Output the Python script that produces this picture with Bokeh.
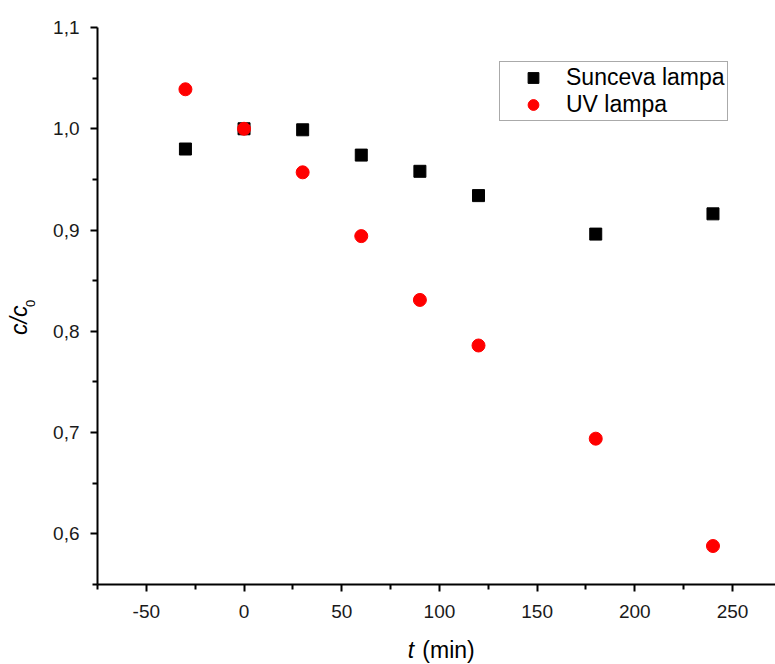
import math
from bokeh.plotting import figure
from bokeh.layouts import row, column
from bokeh.models import FixedTicker, CustomJSTickFormatter, Range1d
from bokeh.core.properties import value
from bokeh.embed import file_html
from bokeh.resources import INLINE

# ---- data ----
t_min = [-30, 0, 30, 60, 90, 120, 180, 240]
sunceva = [0.980, 1.000, 0.999, 0.974, 0.958, 0.934, 0.896, 0.916]
uv = [1.039, 1.000, 0.957, 0.894, 0.831, 0.786, 0.694, 0.588]

x_major = [-50, 0, 50, 100, 150, 200, 250]
x_minor = [-75, -25, 25, 75, 125, 175, 225, 275]
y_major = [0.6, 0.7, 0.8, 0.9, 1.0, 1.1]
y_minor = [0.55, 0.65, 0.75, 0.85, 0.95, 1.05]

FONT = "Liberation Sans"
W, H = 775, 664
YLAB_W = 40
MAIN_H = 624


def blank(width, height, xr, yr):
    f = figure(width=width, height=height, output_backend="svg", toolbar_location=None,
               x_range=xr, y_range=yr, x_axis_type=None, y_axis_type=None,
               min_border=0, min_border_left=0, min_border_right=0,
               min_border_top=0, min_border_bottom=0)
    f.outline_line_color = None
    f.xgrid.visible = False
    f.ygrid.visible = False
    return f


# ---- main plot ----
p = figure(width=W - YLAB_W, height=MAIN_H, output_backend="svg", toolbar_location=None,
           x_range=Range1d(-75, 272), y_range=Range1d(0.55, 1.1),
           min_border_left=97 - YLAB_W, min_border_right=0, min_border_top=27,
           min_border_bottom=MAIN_H - 584)
p.outline_line_color = None
p.xgrid.visible = False
p.ygrid.visible = False

p.scatter(t_min, sunceva, marker="square", size=12, color="black",
          legend_label="Sunceva lampa")
p.scatter(t_min, uv, marker="circle", size=13, color="#ff0000",
          legend_label="UV lampa")

for ax in (p.xaxis[0], p.yaxis[0]):
    ax.axis_line_width = 2
    ax.axis_line_color = "black"
    ax.major_tick_line_width = 2
    ax.minor_tick_line_width = 2
    ax.major_tick_line_color = "black"
    ax.minor_tick_line_color = "black"
    ax.major_tick_out = 7
    ax.major_tick_in = 0
    ax.minor_tick_out = 5
    ax.minor_tick_in = 0
    ax.major_label_text_font = FONT
    ax.major_label_text_font_size = "19px"
    ax.major_label_text_color = "#1a1a1a"

p.xaxis.ticker = FixedTicker(ticks=x_major, minor_ticks=x_minor)
p.yaxis.ticker = FixedTicker(ticks=y_major, minor_ticks=y_minor)
p.xaxis.major_label_standoff = 13
p.yaxis.major_label_standoff = 11
p.yaxis.formatter = CustomJSTickFormatter(code="return tick.toFixed(1).replace('.', ',');")
p.xaxis.formatter = CustomJSTickFormatter(code="return tick.toFixed(0);")

lg = p.legend[0]
lg.location = (402, 463)
lg.border_line_color = "#555555"
lg.border_line_width = 1
lg.background_fill_alpha = 1
lg.padding = 2
lg.spacing = 0
lg.margin = 0
lg.glyph_width = 62
lg.glyph_height = 27
lg.label_height = 27
lg.label_standoff = 2
lg.label_text_font = FONT
lg.label_text_font_size = "23px"
lg.label_text_color = "black"

# ---- y axis label: c/c0 (rotated, italic c, subscript 0) ----
yl = blank(YLAB_W, MAIN_H, Range1d(0, YLAB_W), Range1d(MAIN_H, 0))
yl.text(x=[18], y=[328], text=["c/c"], angle=math.pi / 2,
        text_font=value(FONT), text_font_size="23px", text_font_style="italic",
        text_align="center", text_baseline="middle", text_color="black")
yl.text(x=[30], y=[309], text=["0"], angle=math.pi / 2,
        text_font=value(FONT), text_font_size="13px",
        text_align="center", text_baseline="middle", text_color="black")

# ---- x axis label: t (min) ----
xl = blank(W, H - MAIN_H, Range1d(0, W), Range1d(H, MAIN_H))
xl.text(x=[410.5], y=[649], text=["t"], text_font=value(FONT), text_font_size="23px",
        text_font_style="italic", text_align="center", text_baseline="middle",
        text_color="black")
xl.text(x=[448], y=[649], text=["(min)"], text_font=value(FONT), text_font_size="23px",
        text_align="center", text_baseline="middle", text_color="black")

layout = column(row(yl, p, spacing=0), xl, spacing=0)

open("out.html", "w").write(file_html(layout, INLINE))
